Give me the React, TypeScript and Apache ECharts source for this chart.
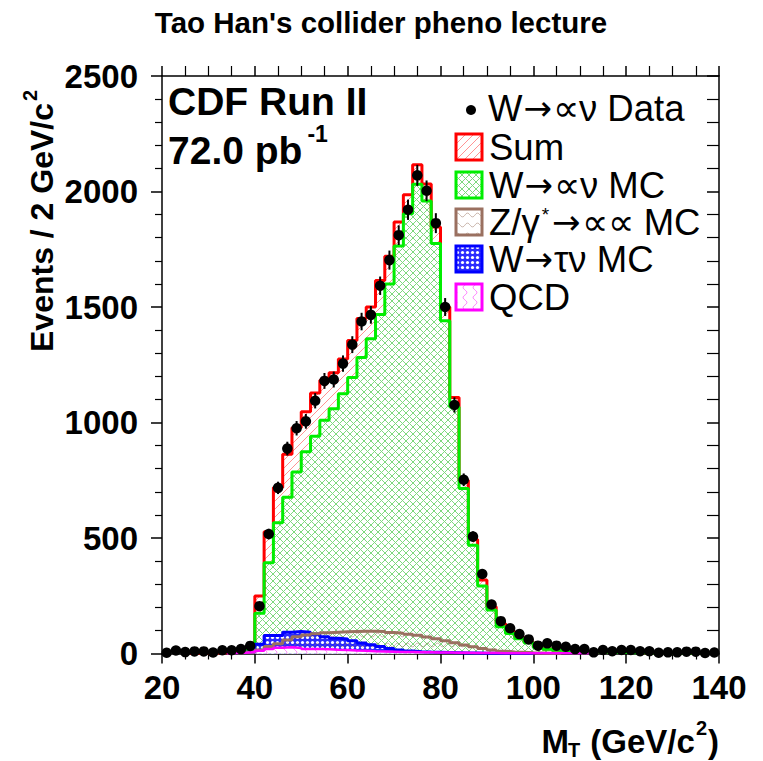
import React, { useEffect, useRef } from "react";
import * as echarts from "echarts";

// Histogram binning: 60 bins of 2 GeV from 20 to 140 GeV
const BIN_LOW = 20;
const BIN_WIDTH = 2;

// Observed events per bin (bin centres 21, 23, ..., 139)
const dataCounts = [
  3, 13, 6, 9, 9, 4, 14, 14, 19, 33,
  205, 517, 717, 887, 975, 1005, 1094, 1180, 1186, 1255,
  1337, 1437, 1466, 1592, 1703, 1811, 1921, 2070, 2003, 1863,
  1500, 1076, 752, 506, 344, 212, 140, 109, 84, 61,
  34, 44, 34, 29, 19, 19, 5, 15, 10, 15,
  15, 10, 10, 3, 5, 5, 8, 8, 2, 4,
];

// Sum of all MC contributions
const sumMC = [
  0, 0, 0, 1, 1, 2, 3, 4, 8, 28,
  249, 527, 719, 863, 977, 1046, 1128, 1183, 1215, 1275,
  1355, 1450, 1500, 1615, 1720, 1868, 1986, 2116, 2032, 1846,
  1500, 1108, 750, 494, 318, 202, 130, 95, 70, 50,
  28, 20, 15, 12, 10, 8, 7, 6, 5, 4,
  4, 3, 3, 2, 2, 2, 1, 1, 1, 1,
];

// W -> e nu MC
const wenuMC = [
  0, 0, 0, 0, 0, 0, 0, 0, 0, 15,
  174, 393, 566, 676, 786, 873, 941, 1010, 1060, 1125,
  1195, 1281, 1363, 1468, 1600, 1764, 1904, 2031, 1959, 1775,
  1440, 1067, 714, 469, 292, 188, 116, 87, 64, 47,
  25, 18, 14, 11, 9, 7, 6, 5, 4, 4,
  3, 3, 2, 2, 2, 1, 1, 1, 1, 1,
];

// Z/gamma* -> e e MC
const zeeMC = [
  0, 0, 0, 0, 0, 0, 0, 0, 0, 5,
  15, 30, 42, 58, 72, 80, 86, 90, 92, 94,
  95, 96, 96, 95, 91, 88, 83, 79, 71, 64,
  55, 46, 37, 29, 22, 15, 10, 7, 5, 3,
  2, 1, 1, 0, 0, 0, 0, 0, 0, 0,
  0, 0, 0, 0, 0, 0, 0, 0, 0, 0,
];

// W -> tau nu MC
const wtaunuMC = [
  0, 0, 0, 0, 0, 0, 0, 0, 0, 5,
  40, 78, 78, 92, 95, 92, 84, 73, 66, 63,
  55, 45, 38, 30, 22, 15, 11, 8, 6, 5,
  4, 3, 2, 2, 1, 1, 1, 1, 1, 1,
  0, 0, 0, 0, 0, 0, 0, 0, 0, 0,
  0, 0, 0, 0, 0, 0, 0, 0, 0, 0,
];

// QCD background
const qcdMC = [
  0, 0, 0, 0, 0, 0, 0, 2, 3, 6,
  12, 20, 25, 27, 24, 20, 19, 18, 16, 15,
  13, 12, 10, 9, 8, 7, 6, 5, 5, 4,
  4, 3, 3, 2, 2, 2, 1, 1, 1, 1,
  1, 1, 1, 1, 1, 1, 0, 0, 0, 0,
  0, 0, 0, 0, 0, 0, 0, 0, 0, 0,
];

// Legend labels, split into pieces: [before arrow, superscript, after arrow]
const legendLabels = [
  { pre: "W", sup: "", post: "\u221D\u03BD Data", arrow: true },
  { pre: "Sum", sup: "", post: "", arrow: false },
  { pre: "W", sup: "", post: "\u221D\u03BD MC", arrow: true },
  { pre: "Z/\u03B3", sup: "*", post: "\u221D\u221D MC", arrow: true },
  { pre: "W", sup: "", post: "\u03C4\u03BD MC", arrow: true },
  { pre: "QCD", sup: "", post: "", arrow: false },
];
const titleText = "Tao Han's collider pheno lecture";

const FONT = '"Liberation Sans", Arial, Helvetica, sans-serif';
const ARROW_FONT = '"DejaVu Sans", sans-serif';

function stepPoints(values: number[]) {
  const pts: number[][] = [];
  const f = values.findIndex((v) => v > 0);
  if (f < 0) return pts;
  let l = values.length - 1;
  while (l >= 0 && !(values[l] > 0)) l--;
  pts.push([BIN_LOW + f * BIN_WIDTH, 0]);
  for (let i = f; i <= l; i++) {
    const lo = BIN_LOW + i * BIN_WIDTH;
    pts.push([lo, values[i]], [lo + BIN_WIDTH, values[i]]);
  }
  pts.push([BIN_LOW + (l + 1) * BIN_WIDTH, 0]);
  return pts;
}

function makePattern(size: number, draw: (ctx: CanvasRenderingContext2D, s: number) => void) {
  const c = document.createElement("canvas");
  c.width = size;
  c.height = size;
  const ctx = c.getContext("2d")!;
  draw(ctx, size);
  return { image: c, repeat: "repeat" } as any;
}

let measureCtx: CanvasRenderingContext2D | null = null;
function textWidth(text: string, size: number, bold: boolean, family = FONT) {
  if (!measureCtx) measureCtx = document.createElement("canvas").getContext("2d");
  measureCtx!.font = `${bold ? "bold " : ""}${size}px ${family}`;
  return measureCtx!.measureText(text).width;
}

function txt(text: string, x: number, y: number, size: number, bold: boolean, align = "left", family = FONT) {
  return {
    type: "text",
    x,
    y,
    silent: true,
    style: {
      text,
      fill: "#000",
      fontSize: size,
      fontFamily: family,
      fontWeight: bold ? "bold" : "normal",
      textAlign: align,
      align,
      textVerticalAlign: "middle",
      verticalAlign: "middle",
    },
  };
}

export default function App() {
  const ref = useRef<HTMLDivElement>(null);

  useEffect(() => {
    if (!ref.current) return;
    const chart = echarts.init(ref.current, null, { renderer: "svg" });

    const redHatch = makePattern(8, (ctx, s) => {
      ctx.fillStyle = "#ffffff";
      ctx.fillRect(0, 0, s, s);
      ctx.strokeStyle = "#ff9494";
      ctx.lineWidth = 1;
      ctx.beginPath();
      ctx.moveTo(-1, s + 1);
      ctx.lineTo(s + 1, -1);
      ctx.moveTo(-1, 1);
      ctx.lineTo(1, -1);
      ctx.moveTo(s - 1, s + 1);
      ctx.lineTo(s + 1, s - 1);
      ctx.stroke();
    });
    const greenHatch = makePattern(7, (ctx, s) => {
      ctx.fillStyle = "#ffffff";
      ctx.fillRect(0, 0, s, s);
      ctx.strokeStyle = "#7ed87e";
      ctx.lineWidth = 1;
      ctx.beginPath();
      ctx.moveTo(-1, s + 1);
      ctx.lineTo(s + 1, -1);
      ctx.moveTo(-1, -1);
      ctx.lineTo(s + 1, s + 1);
      ctx.stroke();
    });
    const blueDots = makePattern(5, (ctx, s) => {
      ctx.fillStyle = "#2a2aff";
      ctx.fillRect(0, 0, s, s);
      ctx.fillStyle = "#ffffff";
      ctx.beginPath();
      ctx.arc(s / 2, s / 2, 1.6, 0, Math.PI * 2);
      ctx.fill();
    });
    const brownWave = makePattern(10, (ctx, s) => {
      ctx.strokeStyle = "rgba(150,110,90,0.45)";
      ctx.lineWidth = 1;
      ctx.beginPath();
      for (let x = 0; x <= s; x++) {
        const y = 5 + 2 * Math.sin((x / s) * Math.PI * 2);
        if (x === 0) ctx.moveTo(x, y);
        else ctx.lineTo(x, y);
      }
      ctx.stroke();
    });
    const magentaWave = makePattern(10, (ctx, s) => {
      ctx.fillStyle = "#ffffff";
      ctx.fillRect(0, 0, s, s);
      ctx.strokeStyle = "#ff8cff";
      ctx.lineWidth = 1;
      ctx.beginPath();
      for (let y = 0; y <= s; y++) {
        const x = 5 + 2 * Math.sin((y / s) * Math.PI * 2);
        if (y === 0) ctx.moveTo(x, y);
        else ctx.lineTo(x, y);
      }
      ctx.stroke();
    });

    const dataPoints = dataCounts.map((v, i) => [BIN_LOW + BIN_WIDTH * (i + 0.5), v]);

    const histSeries = (name: string, values: number[], color: string, fill: any, width: number) => ({
      type: "line",
      name,
      data: stepPoints(values),
      showSymbol: false,
      symbol: "none",
      silent: true,
      lineStyle: { color, width },
      areaStyle: { color: fill, opacity: 1 },
      clip: true,
    });

    const axisLineStyle = { color: "#000", width: 1.5 };

    // legend
    const legendX = 456;
    const textX = 489;
    const rowY = [108, 147, 185, 222, 259, 297];
    const boxes = [
      { fill: redHatch, stroke: "#ff0000" },
      { fill: greenHatch, stroke: "#00ee00" },
      { fill: brownWave, stroke: "#9a7060" },
      { fill: blueDots, stroke: "#0000ff" },
      { fill: magentaWave, stroke: "#ff00ff" },
    ];
    const legendSize = 36.5;
    const arrowSize = 34;
    const supSize = 19;
    const graphics: any[] = [];
    graphics.push({
      type: "circle",
      shape: { cx: 471, cy: 110, r: 5 },
      style: { fill: "#000" },
      silent: true,
    });
    boxes.forEach((b, i) => {
      graphics.push({
        type: "rect",
        shape: { x: legendX, y: rowY[i + 1] - 13, width: 26, height: 26 },
        style: { fill: b.fill, stroke: b.stroke, lineWidth: 3 },
        silent: true,
      });
    });
    legendLabels.forEach((lab, i) => {
      let x = i === 0 ? textX - 1 : textX;
      const y = rowY[i];
      graphics.push(txt(lab.pre, x, y, legendSize, false));
      x += textWidth(lab.pre, legendSize, false);
      if (lab.sup) {
        x += 2;
        graphics.push(txt(lab.sup, x, y - 8, supSize, false));
        x += textWidth(lab.sup, supSize, false) + 2;
      }
      if (lab.arrow) {
        x += 1;
        graphics.push(txt("\u2192", x, y, arrowSize, false, "left", ARROW_FONT));
        x += textWidth("\u2192", arrowSize, false, ARROW_FONT) + 1;
      }
      if (lab.post) graphics.push(txt(lab.post, x, y, legendSize, false));
    });

    // title
    graphics.push(txt(titleText, 381, 22, 29.5, true, "center"));

    // CDF label
    graphics.push(txt("CDF Run II", 168, 101, 39, true));
    const pbw = textWidth("72.0 pb", 39, true);
    graphics.push(txt("72.0 pb", 168, 150, 39, true));
    graphics.push(txt("-1", 168 + pbw + 5, 134, 23, true));

    // Y axis title (rotated)
    const yMain = "Events / 2 GeV/c";
    const yw = textWidth(yMain, 32, true);
    graphics.push({
      type: "group",
      x: 42,
      y: 352,
      rotation: Math.PI / 2,
      children: [txt(yMain, 0, 0, 32, true), txt("2", yw + 2, -12, 20, true)],
    });

    // X axis title: M_T (GeV/c^2)
    const xs = 33;
    const ss = 20;
    const wM = textWidth("M", xs, true);
    const wT = textWidth("T", ss, true);
    const wMid = textWidth(" (GeV/c", xs, true);
    const w2 = textWidth("2", ss, true);
    const wP = textWidth(")", xs, true);
    const total = wM + wT + wMid + w2 + 2 + wP;
    let cx = 719 - total;
    const xty = 741;
    graphics.push(txt("M", cx, xty, xs, true));
    cx += wM;
    graphics.push(txt("T", cx - 1, xty + 9, ss, true));
    cx += wT;
    graphics.push(txt(" (GeV/c", cx, xty, xs, true));
    cx += wMid;
    graphics.push(txt("2", cx + 1, xty - 13, ss, true));
    cx += w2 + 2;
    graphics.push(txt(")", cx, xty, xs, true));

    const plainLabel = (v: number) => String(v);

    const option: any = {
      animation: false,
      backgroundColor: "#ffffff",
      grid: { left: 162, right: 44, top: 76, bottom: 107.5, containLabel: false },
      xAxis: [
        {
          type: "value",
          min: 20,
          max: 140,
          interval: 20,
          position: "bottom",
          axisLine: { show: true, onZero: false, lineStyle: axisLineStyle },
          axisTick: { show: true, inside: false, length: 10, lineStyle: axisLineStyle },
          minorTick: { show: true, splitNumber: 4, length: 6, lineStyle: { color: "#000", width: 1.2 } },
          axisLabel: {
            margin: 17,
            color: "#000",
            fontFamily: FONT,
            fontWeight: "bold",
            fontSize: 33,
            formatter: plainLabel,
            showMinLabel: true,
            showMaxLabel: true,
            hideOverlap: false,
          },
          splitLine: { show: false },
        },
        {
          type: "value",
          min: 20,
          max: 140,
          interval: 20,
          position: "top",
          axisLine: { show: true, onZero: false, lineStyle: axisLineStyle },
          axisTick: { show: true, inside: false, length: 10, lineStyle: axisLineStyle },
          minorTick: { show: true, splitNumber: 4, length: 10, lineStyle: { color: "#000", width: 1.2 } },
          axisLabel: { show: false },
          splitLine: { show: false },
        },
      ],
      yAxis: [
        {
          type: "value",
          min: 0,
          max: 2500,
          interval: 500,
          position: "left",
          axisLine: { show: true, onZero: false, lineStyle: axisLineStyle },
          axisTick: { show: true, inside: false, length: 11, lineStyle: axisLineStyle },
          minorTick: { show: true, splitNumber: 5, length: 7, lineStyle: { color: "#000", width: 1.2 } },
          axisLabel: {
            margin: 24,
            color: "#000",
            fontFamily: FONT,
            fontWeight: "bold",
            fontSize: 33,
            formatter: plainLabel,
            showMinLabel: true,
            showMaxLabel: true,
            hideOverlap: false,
          },
          splitLine: { show: false },
        },
        {
          type: "value",
          min: 0,
          max: 2500,
          interval: 500,
          position: "right",
          axisLine: { show: true, onZero: false, lineStyle: axisLineStyle },
          axisTick: { show: true, inside: true, length: 12, lineStyle: axisLineStyle },
          minorTick: { show: true, splitNumber: 5, length: 12, lineStyle: { color: "#000", width: 1.2 } },
          axisLabel: { show: false },
          splitLine: { show: false },
        },
      ],
      series: [
        histSeries("Sum", sumMC, "#ff0000", redHatch, 3),
        histSeries("W MC", wenuMC, "#00ee00", greenHatch, 3),
        histSeries("W tau nu MC", wtaunuMC, "#0000ff", blueDots, 3),
        histSeries("Z MC", zeeMC, "#9a7060", brownWave, 3),
        histSeries("QCD", qcdMC, "#ff00ff", magentaWave, 2.5),
        {
          type: "custom",
          name: "errors",
          silent: true,
          z: 5,
          data: dataPoints,
          renderItem: (params: any, api: any) => {
            const x = api.value(0);
            const y = api.value(1);
            const e = Math.sqrt(Math.max(y, 0));
            const p1 = api.coord([x, y - e]);
            const p2 = api.coord([x, y + e]);
            return {
              type: "line",
              shape: { x1: p1[0], y1: p1[1], x2: p2[0], y2: p2[1] },
              style: { stroke: "#000", lineWidth: 2 },
            };
          },
        },
        {
          type: "scatter",
          name: "Data",
          data: dataPoints,
          symbol: "circle",
          symbolSize: 10.5,
          itemStyle: { color: "#000", opacity: 1 },
          z: 6,
          silent: true,
        },
      ],
      graphic: graphics,
    };

    chart.setOption(option);
    return () => chart.dispose();
  }, []);

  return (
    <div
      ref={ref}
      style={{ position: "fixed", left: 0, top: 0, width: 763, height: 761, background: "#fff" }}
    />
  );
}
